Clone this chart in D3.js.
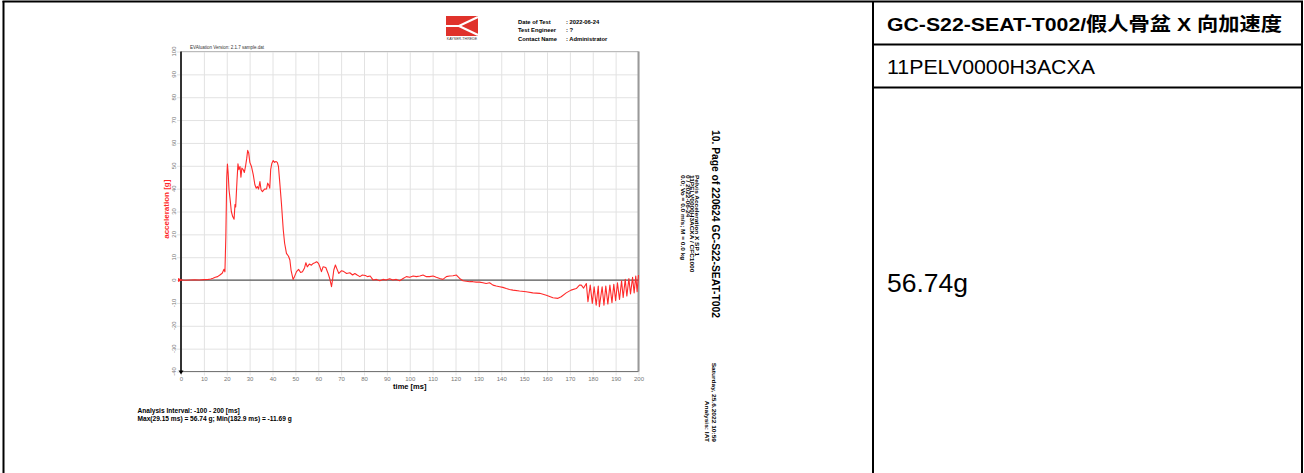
<!DOCTYPE html>
<html>
<head>
<meta charset="utf-8">
<script src="https://cdn.jsdelivr.net/npm/d3@7"></script>
<style>
  body { margin: 0; background: #fff; }
  svg { display: block; font-family: "Liberation Sans", Arial, sans-serif; }
  .tick text { fill: #777; }
</style>
</head>
<body>
<div class="chart"></div>
<script>

// time axis of the trace [ms]
var timeMs = [
  0, 2, 4, 6, 8, 10, 12, 13, 14, 15, 16, 17, 18, 18.8, 19.2, 19.6,
  20.0, 20.3, 20.6, 21.0, 21.5, 22.0, 22.6, 23.2, 23.6, 23.9, 24.2, 24.5, 24.9, 25.3, 25.8, 26.2,
  26.6, 27.2, 27.7, 28.2, 28.7, 29.15, 29.6, 30.1, 30.8, 31.6, 32.3, 32.9, 33.4, 33.9, 34.5, 35.0,
  35.6, 36.5, 37.4, 37.9, 38.4, 38.8, 39.2, 39.7, 40.3, 40.9, 41.5, 42.1, 42.6, 43.2, 43.9, 44.7,
  45.3, 46.1, 47.0, 47.6, 48.1, 49.0, 49.6, 50.5, 51.4, 52.3, 53.1, 54.0, 54.6, 55.2, 56.1, 57.0,
  57.8, 58.5, 59.3, 60.1, 60.7, 61.4, 62.1, 63.3, 64.3, 65.0, 65.8, 66.3, 66.8, 67.5, 68.2, 69.0,
  70.2, 71.2, 72.4, 73.8, 75.0, 76.0, 77.0, 78.2, 79.3, 80.6, 81.5, 82.7, 84.0, 85.4, 86.9, 88.3,
  89.7, 91.2, 92.6, 94.1, 95.6, 97.1, 98.5, 100.0, 101.5, 102.9, 104.4, 105.8, 107.3, 108.7, 110.2, 111.6,
  113.1, 114.5, 116.0, 117.4, 118.9, 120.4, 121.8, 123.3, 124.7, 126.2, 127.6, 129.1, 130.5, 132.0, 133.4, 134.9,
  136.4, 137.8, 139.3, 140.7, 142.2, 143.6, 145.1, 148.0, 150.9, 153.8, 156.8, 159.7, 162.6, 164.8, 166.2, 168.4,
  170.5, 172.8, 174.2, 175.0, 176.0, 177.2, 177.9, 178.9, 179.8, 180.6, 181.5, 182.4, 182.9, 184.1, 184.9, 185.7,
  186.6, 187.5, 188.4, 189.2, 190.0, 190.8, 191.7, 192.6, 193.3, 194.2, 194.9, 195.8, 196.5, 197.4, 198.1, 198.8,
  199.4, 200
];

// pelvis acceleration X [g]
var accelG = [
  0, -0.1, 0, 0.1, 0, 0.2, 0.3, 0.5, 0.8, 1.2, 1.5, 2.2, 3.0, 4.7, 3.6, 19,
  45, 50.8, 47, 39.5, 35, 30, 27.8, 26.6, 33, 32, 38, 43.9, 50.9, 48.3, 49.7, 45,
  49, 48.3, 47.1, 49.7, 53, 56.74, 55.6, 51.5, 49.7, 46, 41.7, 40.2, 40.9, 39.8, 43.1, 39.5,
  38.7, 39.8, 39.9, 42.4, 41.5, 40.2, 48.3, 51, 52.3, 51.5, 51.9, 51.5, 49.7, 42.4, 33.6, 22,
  16.1, 11.7, 10.4, 8.8, 4.4, 0.3, 1.5, 3.7, 4.7, 3.3, 3.6, 5.3, 7.6, 5.8, 7.0, 6.5,
  7.3, 7.6, 8.0, 7.3, 5.8, 3.7, 5.8, 5.5, 2.9, 0.7, -2.9, 0.5, 4.4, 6.6, 4.8, 2.9,
  4.1, 3.7, 2.9, 3.2, 2.2, 2.9, 2.2, 1.5, 2.2, 2.0, 1.5, 1.8, 0, 0.3, -0.3, 0.3,
  0, 0.6, 0, 0.3, -0.3, 0.7, 1.5, 1.2, 1.8, 1.5, 1.8, 2.2, 1.5, 1.5, 1.8, 1.2,
  0.7, 0.3, 1.5, 1.8, 1.9, 2.2, 0.7, -0.3, -0.5, -0.7, -0.7, -0.9, -0.9, -1.2, -1.5, -1.2,
  -2.2, -2.6, -2.9, -3.2, -3.7, -4.1, -4.4, -4.8, -5.1, -5.6, -5.8, -6.6, -7.7, -8.0, -7.3, -5.6,
  -4.4, -3.7, -2.2, -2.2, -3.5, -1.5, -9.5, -2.2, -10.2, -2.9, -11.0, -2.6, -11.69, -2.9, -11.0, -2.6,
  -10.5, -2.2, -9.9, -1.8, -9.0, -1.2, -8.5, -0.3, -7.6, 0.3, -7.0, 0.7, -6.1, 1.2, -5.6, 1.8,
  -5.1, 2.2
];

var xTicks = d3.range(0, 201, 10);
var yTicks = d3.range(-40, 101, 10);

var headerLabels = ["Date of Test", "Test Engineer", "Contact Name"];
var headerValues = [": 2022-06-24", ": ?", ": Administrator"];
var sideLines = ["Pelvis Acceleration X SP 1", "11PELV0000H3ACXA / CFC1000",
  "0 / 2022-06-24", "0.0; Vo = 0.0 m/s; M = 0.0 kg"];
var tableTitle = "GC-S22-SEAT-T002/假人骨盆 X 向加速度";
var tableCode = "11PELV0000H3ACXA";
var tableValue = "56.74g";

var svgWidth = 1304;
var svgHeight = 473;

var svg = d3.select(".chart")
  .append("svg")
  .attr("width", svgWidth)
  .attr("height", svgHeight);

// ---- table frame on the page
var frame = svg.append("g")
  .attr("stroke", "#000")
  .attr("stroke-width", 2);
frame.append("line").attr("x1", 3.5).attr("x2", 3.5).attr("y1", 1).attr("y2", 473);
frame.append("line").attr("x1", 2.5).attr("x2", 1303).attr("y1", 1.5).attr("y2", 1.5);
frame.append("line").attr("x1", 873).attr("x2", 873).attr("y1", 1).attr("y2", 473);
frame.append("line").attr("x1", 1302).attr("x2", 1302).attr("y1", 1).attr("y2", 473);
frame.append("line").attr("x1", 873).attr("x2", 1303).attr("y1", 44.5).attr("y2", 44.5);
frame.append("line").attr("x1", 873).attr("x2", 1303).attr("y1", 87.5).attr("y2", 87.5);

svg.append("text")
  .attr("x", 887)
  .attr("y", 31)
  .attr("font-size", 19)
  .attr("font-weight", "bold")
  .attr("textLength", 395)
  .attr("lengthAdjust", "spacingAndGlyphs")
  .style("font-family", "'Liberation Sans', 'Noto Sans CJK SC', sans-serif")
  .text(tableTitle);

svg.append("text")
  .attr("x", 887)
  .attr("y", 73.5)
  .attr("font-size", 19.5)
  .attr("textLength", 208)
  .attr("lengthAdjust", "spacingAndGlyphs")
  .text(tableCode);

svg.append("text")
  .attr("x", 887)
  .attr("y", 292)
  .attr("font-size", 26.5)
  .text(tableValue);

// ---- plot
var margin = { top: 51.5, left: 181 };
var width = 457.5;
var height = 320;

var xScale = d3.scaleLinear().domain([0, 200]).range([0, width]);
var yScale = d3.scaleLinear().domain([-40, 100]).range([height, 0]);

var chart = svg.append("g")
  .attr("transform", "translate(" + margin.left + "," + margin.top + ")");

// grid via axes
var bottomAxis = d3.axisBottom(xScale)
  .tickValues(xTicks)
  .tickSize(height + 4)
  .tickPadding(1);
var leftAxis = d3.axisLeft(yScale)
  .tickValues(yTicks)
  .tickSize(width + 4)
  .tickFormat("");

chart.append("g")
  .attr("class", "x-axis")
  .call(bottomAxis)
  .call(function(g) {
    g.select(".domain").remove();
    g.selectAll(".tick line").attr("stroke", "#e2e2e2");
    g.selectAll(".tick text").attr("font-size", 6);
  });

chart.append("g")
  .attr("class", "y-axis")
  .attr("transform", "translate(" + width + ",0)")
  .call(leftAxis)
  .call(function(g) {
    g.select(".domain").remove();
    g.selectAll(".tick line").attr("stroke", "#e2e2e2");
  });

// rotated y tick labels
chart.selectAll(".ylab")
  .data(yTicks)
  .enter()
  .append("text")
  .attr("class", "ylab")
  .attr("transform", function(d) { return "translate(-5.5," + yScale(d) + ") rotate(-90)"; })
  .attr("text-anchor", "middle")
  .attr("font-size", 6)
  .attr("fill", "#777")
  .text(function(d) { return d; });

// plot border
chart.append("line").attr("x1", 0).attr("x2", width).attr("y1", 0).attr("y2", 0)
  .attr("stroke", "#bbb").attr("stroke-width", 1);
chart.append("line").attr("x1", width).attr("x2", width).attr("y1", 0).attr("y2", height)
  .attr("stroke", "#999").attr("stroke-width", 2);
chart.append("line").attr("x1", 0).attr("x2", width).attr("y1", height).attr("y2", height)
  .attr("stroke", "#777").attr("stroke-width", 1);
chart.append("line").attr("x1", 0).attr("x2", 0).attr("y1", 0).attr("y2", height)
  .attr("stroke", "#333").attr("stroke-width", 2);

// zero line
chart.append("line")
  .attr("x1", 0).attr("x2", width)
  .attr("y1", yScale(0)).attr("y2", yScale(0))
  .attr("stroke", "#333").attr("stroke-width", 1);

// the trace
var traceData = timeMs.map(function(t, i) { return [t, accelG[i]]; });
var line = d3.line()
  .x(function(d) { return xScale(d[0]); })
  .y(function(d) { return yScale(d[1]); });

chart.append("path")
  .datum(traceData)
  .attr("d", line)
  .attr("fill", "none")
  .attr("stroke", "#ff2a2a")
  .attr("stroke-width", 1.1)
  .attr("stroke-linejoin", "round");

// small start markers
chart.append("path")
  .attr("d", "M-3," + (yScale(0) - 2) + "L2," + yScale(0) + "L-3," + (yScale(0) + 2) + "Z")
  .attr("fill", "#ff2a2a");
chart.append("path")
  .attr("d", "M-2.5," + (height - 1) + "L2.5," + (height - 1) + "L0," + (height + 3) + "Z")
  .attr("fill", "#000");

// axis titles
chart.append("text")
  .attr("x", width / 2)
  .attr("y", height + 17.5)
  .attr("text-anchor", "middle")
  .attr("font-size", 7.5)
  .attr("font-weight", "bold")
  .text("time [ms]");

chart.append("text")
  .attr("transform", "translate(-12.5," + (yScale(31)) + ") rotate(-90)")
  .attr("text-anchor", "middle")
  .attr("font-size", 8)
  .attr("font-weight", "bold")
  .attr("fill", "#ff2a2a")
  .text("acceleration [g]");

chart.append("text")
  .attr("x", 9)
  .attr("y", -2.5)
  .attr("font-size", 4.5)
  .attr("fill", "#333")
  .text("EVAluation Version: 2.1.7 sample.dat");

// ---- logo and header block
var logo = svg.append("g").attr("transform", "translate(446,16)");
logo.append("rect").attr("width", 32).attr("height", 20).attr("fill", "#e0322b");
logo.append("path")
  .attr("d", "M0,10 L13,10 L32,1 M13,10 L32,19")
  .attr("stroke", "#fff")
  .attr("stroke-width", 2.2)
  .attr("fill", "none");
logo.append("text")
  .attr("x", 16).attr("y", 24)
  .attr("text-anchor", "middle")
  .attr("font-size", 3.6)
  .attr("fill", "#333")
  .text("KAYSER-THREDE");

svg.selectAll(".hdr-label")
  .data(headerLabels)
  .enter()
  .append("text")
  .attr("x", 518)
  .attr("y", function(d, i) { return 23.5 + i * 8.5; })
  .attr("font-size", 5.8)
  .attr("font-weight", "bold")
  .text(function(d) { return d; });

svg.selectAll(".hdr-value")
  .data(headerValues)
  .enter()
  .append("text")
  .attr("x", 566)
  .attr("y", function(d, i) { return 23.5 + i * 8.5; })
  .attr("font-size", 5.8)
  .attr("font-weight", "bold")
  .text(function(d) { return d; });

// ---- rotated side texts
svg.append("text")
  .attr("transform", "translate(712,130) rotate(90)")
  .attr("font-size", 10)
  .attr("font-weight", "bold")
  .attr("textLength", 188)
  .attr("lengthAdjust", "spacingAndGlyphs")
  .text("10. Page of 220624 GC-S22-SEAT-T002");

svg.selectAll(".side-line")
  .data(sideLines)
  .enter()
  .append("text")
  .attr("transform", function(d, i) { return "translate(" + (695 - i * 4.7) + ",175) rotate(90) scale(1.3,1)"; })
  .attr("font-size", 5)
  .attr("font-weight", "bold")
  .text(function(d) { return d; });

svg.append("text")
  .attr("transform", "translate(712,442) rotate(90) scale(1.2,1)")
  .attr("text-anchor", "end")
  .attr("font-size", 5.5)
  .attr("font-weight", "bold")
  .text("Saturday, 25.6.2022  10:59");

svg.append("text")
  .attr("transform", "translate(705,442) rotate(90) scale(1.2,1)")
  .attr("text-anchor", "end")
  .attr("font-size", 5.5)
  .attr("font-weight", "bold")
  .text("Analysis: IAT");

// ---- analysis footer
svg.append("text")
  .attr("x", 137.5).attr("y", 412.5)
  .attr("font-size", 6.6)
  .attr("font-weight", "bold")
  .text("Analysis Interval:  -100 - 200 [ms]");

svg.append("text")
  .attr("x", 137.5).attr("y", 421)
  .attr("font-size", 6.6)
  .attr("font-weight", "bold")
  .text("Max(29.15 ms) = 56.74 g; Min(182.9 ms) = -11.69 g");

</script>
</body>
</html>
